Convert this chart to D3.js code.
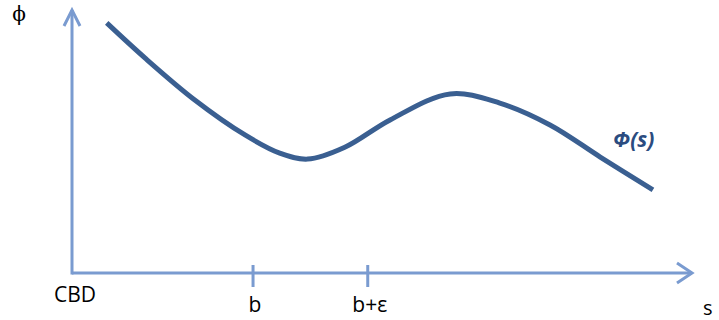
<!DOCTYPE html>
<html>
<head>
<meta charset="utf-8">
<script src="https://cdn.jsdelivr.net/npm/d3@7"></script>
<style>
  html, body { margin: 0; padding: 0; background: #fff; }
  svg { display: block; }
</style>
</head>
<body>
<svg id="chart" width="719" height="320"></svg>
<script>
// ---- data ----
const sValues   = [5.6, 11.8, 19.8, 27.9, 33.5, 38.0, 44.0, 51.3, 61.0, 69.0, 77.1, 85.2, 93.7];
const phiValues = [95.1, 81.7, 65.8, 52.5, 45.6, 43.3, 47.8, 58.2, 68.1, 64.6, 56.3, 44.1, 31.6];
const tickValues = [29.2, 47.7];
const tickLabels = ["b", "b+ε"];
const originLabel = "CBD";
const xAxisTitle = "s";
const yAxisTitle = "ϕ";
const seriesLabel = "Φ(s)";

// ---- scales ----
const svg = d3.select("#chart");
const x = d3.scaleLinear().domain([0, 100]).range([72, 692]);
const y = d3.scaleLinear().domain([0, 100]).range([273, 10]);

const axisColor = "#7A9BD0";
const curveColor = "#3A5F91";

// axes lines
svg.append("line")
  .attr("x1", x(0)).attr("y1", y(0))
  .attr("x2", x(100)).attr("y2", y(0))
  .attr("stroke", axisColor).attr("stroke-width", 3);
svg.append("line")
  .attr("x1", x(0)).attr("y1", y(0) + 1.5)
  .attr("x2", x(0)).attr("y2", y(100))
  .attr("stroke", axisColor).attr("stroke-width", 3);

// arrowheads (open chevrons)
svg.append("path")
  .attr("d", `M${x(100) - 15},${y(0) - 10} L${x(100)},${y(0)} L${x(100) - 15},${y(0) + 10}`)
  .attr("fill", "none").attr("stroke", axisColor).attr("stroke-width", 3)
  .attr("stroke-linejoin", "miter");
svg.append("path")
  .attr("d", `M${x(0) - 8},${y(100) + 16} L${x(0)},${y(100)} L${x(0) + 8},${y(100) + 16}`)
  .attr("fill", "none").attr("stroke", axisColor).attr("stroke-width", 3)
  .attr("stroke-linejoin", "miter");

// tick marks crossing the axis
svg.selectAll("line.tick").data(tickValues).enter().append("line")
  .attr("class", "tick")
  .attr("x1", d => x(d)).attr("x2", d => x(d))
  .attr("y1", y(0) - 8).attr("y2", y(0) + 14)
  .attr("stroke", axisColor).attr("stroke-width", 3);

const font = "'Open Sans', 'Liberation Sans', sans-serif";
svg.selectAll("text.tl").data(tickLabels).enter().append("text")
  .attr("class", "tl")
  .attr("x", (d, i) => x(tickValues[i]) + 2)
  .attr("y", 312)
  .attr("text-anchor", "middle")
  .attr("font-family", font).attr("font-size", 21)
  .attr("fill", "#000")
  .text(d => d);

svg.append("text")
  .attr("x", x(0) + 3).attr("y", 302)
  .attr("text-anchor", "middle")
  .attr("font-family", font).attr("font-size", 21)
  .attr("fill", "#000")
  .text(originLabel);

svg.append("text")
  .attr("x", 703).attr("y", 315)
  .attr("font-family", font).attr("font-size", 20)
  .attr("fill", "#000")
  .text(xAxisTitle);

svg.append("text")
  .attr("x", 19).attr("y", 21)
  .attr("text-anchor", "middle")
  .attr("font-family", "'DejaVu Serif', serif").attr("font-size", 20)
  .attr("fill", "#000")
  .text(yAxisTitle);

// curve
const pts = sValues.map((s, i) => [s, phiValues[i]]);
const line = d3.line().x(d => x(d[0])).y(d => y(d[1])).curve(d3.curveCatmullRom.alpha(0.5));
svg.append("path")
  .datum(pts)
  .attr("d", line)
  .attr("fill", "none")
  .attr("stroke", curveColor)
  .attr("stroke-width", 5);

svg.append("text")
  .attr("x", 613).attr("y", 147)
  .attr("font-family", font).attr("font-size", 21)
  .attr("font-weight", "bold").attr("font-style", "italic")
  .attr("fill", "#2B4C80")
  .text(seriesLabel);
</script>
</body>
</html>
